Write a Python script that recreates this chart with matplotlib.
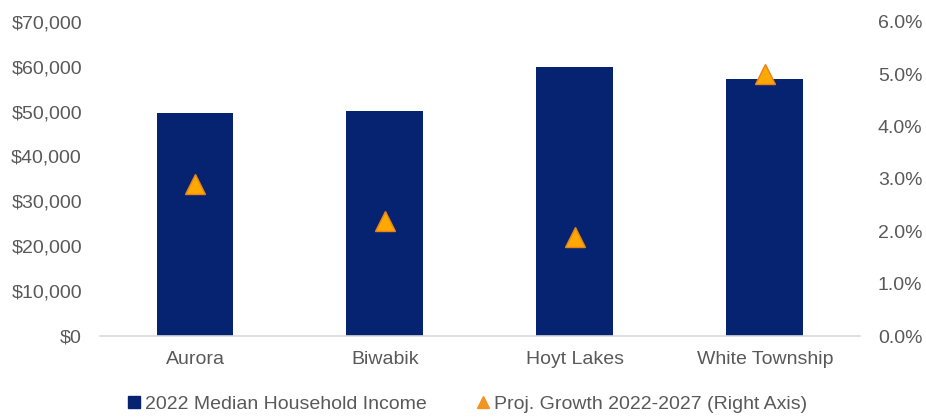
import matplotlib
matplotlib.use("Agg")
import matplotlib.pyplot as plt
from matplotlib.lines import Line2D
from matplotlib.ticker import FuncFormatter
import numpy as np

plt.rcParams["font.family"] = ["Liberation Sans", "DejaVu Sans"]

categories = ["Aurora", "Biwabik", "Hoyt Lakes", "White Township"]
median_income = [49700, 50100, 60000, 57300]
proj_growth = [2.9, 2.2, 1.9, 5.0]  # percent
income_ticks = [0, 10000, 20000, 30000, 40000, 50000, 60000, 70000]
growth_ticks = [0.0, 1.0, 2.0, 3.0, 4.0, 5.0, 6.0]

bar_color = "#052370"
tri_face = "#FFA800"
tri_edge = "#E8821A"
text_color = "#595959"
fs = 14

fig = plt.figure(figsize=(9.26, 4.17), dpi=100)
ax = fig.add_axes([0.108, 0.194, 0.8205, 0.754])
ax2 = ax.twinx()

x = np.arange(len(categories))
ax.bar(x, median_income, width=0.405, color=bar_color, zorder=2)
ax2.plot(x, proj_growth, linestyle="none", marker="^", markersize=15,
         markerfacecolor=tri_face, markeredgecolor=tri_edge,
         markeredgewidth=1.0, zorder=3)

ax.set_xlim(-0.5, len(categories) - 0.5)
ax.set_ylim(0, 70000)
ax2.set_ylim(0, 6.0)
ax.set_yticks(income_ticks)
ax2.set_yticks(growth_ticks)
ax.yaxis.set_major_formatter(FuncFormatter(lambda v, p: f"${v:,.0f}"))
ax2.yaxis.set_major_formatter(FuncFormatter(lambda v, p: f"{v:.1f}%"))
ax.set_xticks(x)
ax.set_xticklabels(categories)

for a in (ax, ax2):
    for s in a.spines.values():
        s.set_visible(False)
    a.tick_params(length=0, labelsize=fs, labelcolor=text_color)
ax.spines["bottom"].set_visible(True)
ax.spines["bottom"].set_color("#D9D9D9")
ax.spines["bottom"].set_linewidth(1.2)
ax.tick_params(axis="y", pad=13)
ax2.tick_params(axis="y", pad=13)
ax.tick_params(axis="x", pad=11)

# bring markers above the bars
ax2.set_zorder(ax.get_zorder() + 1)
ax.patch.set_visible(False)

handles = [
    Line2D([], [], linestyle="none", marker="s", markersize=8,
           markerfacecolor=bar_color, markeredgecolor=bar_color),
    Line2D([], [], linestyle="none", marker="^", markersize=9,
           markerfacecolor="#F29422", markeredgecolor="#F29422"),
]
labels = ["2022 Median Household Income", "Proj. Growth 2022-2027 (Right Axis)"]
fig.legend(handles, labels, loc="center", bbox_to_anchor=(0.505, 0.03),
           ncol=2, frameon=False, fontsize=fs, labelcolor=text_color,
           handlelength=0.6, handletextpad=0.25, columnspacing=2.6)

fig.savefig("out.png", dpi=100, facecolor="white")
